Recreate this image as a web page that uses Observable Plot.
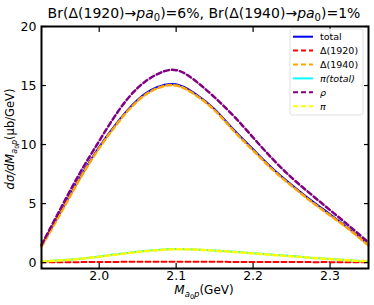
<!DOCTYPE html>
<html><head><meta charset="utf-8">
<script src="https://cdn.jsdelivr.net/npm/d3@7"></script>
<script src="https://cdn.jsdelivr.net/npm/@observablehq/plot@0.6"></script>
<style>body{margin:0;background:#fff;} svg{font-family:"DejaVu Sans",sans-serif;}</style>
</head><body><div id="chart"></div>
<script>
const mass = [1.925,1.95,1.975,2.0,2.025,2.05,2.075,2.1,2.125,2.15,2.175,2.2,2.225,2.25,2.275,2.3,2.325,2.35];
const total = [1.4,4.3,7.2,9.8,12.0,13.8,14.85,15.1,14.3,13.0,11.25,9.6,8.0,6.6,5.3,4.1,2.85,1.5];
const delta1920 = [0.02,0.03,0.04,0.05,0.06,0.07,0.07,0.07,0.07,0.07,0.06,0.06,0.05,0.05,0.04,0.04,0.03,0.03];
const delta1940 = [1.35,4.2,7.1,9.7,11.9,13.7,14.75,15.0,14.2,12.9,11.15,9.5,7.9,6.5,5.2,4.0,2.8,1.45];
const piTotal = [0.1,0.2,0.33,0.52,0.72,0.92,1.07,1.15,1.12,1.03,0.92,0.8,0.67,0.55,0.42,0.31,0.2,0.1];
const rho = [1.5,4.6,7.6,10.3,12.85,14.8,15.95,16.3,15.4,14.0,12.4,10.6,8.8,7.2,5.8,4.45,3.1,1.7];
const piOnly = [0.09,0.19,0.32,0.5,0.7,0.9,1.05,1.13,1.1,1.01,0.9,0.78,0.65,0.53,0.41,0.3,0.19,0.09];

const seriesKeys = ["total","d1920","d1940","piTotal","rho","pi"];
const seriesValues = [total, delta1920, delta1940, piTotal, rho, piOnly];
const seriesColors = ["#0000ff","#ff0000","#ffa500","#00ffff","#800080","#ffff00"];
const seriesDash = [null,"5,3","5,3",null,"5,3","5,3"];
const seriesWidth = [2,2,2.5,2,2.5,2.5];
const xTicks = [2.0,2.1,2.2,2.3];
const yTicks = [0,5,10,15,20];

const lineMarks = seriesKeys.map((k,i) => {
  const data = mass.map((m,j) => ({m, v: seriesValues[i][j]}));
  return Plot.line(data, {x:"m", y:"v", stroke: seriesColors[i], strokeWidth: seriesWidth[i],
    strokeDasharray: seriesDash[i], curve: "natural"});
});

const chart = Plot.plot({
  width: 374, height: 305,
  marginLeft: 41, marginRight: 6, marginTop: 26, marginBottom: 37,
  style: {fontFamily: "DejaVu Sans", fontSize: "12px", background: "#fff"},
  x: {domain: [1.925, 2.35]},
  y: {domain: [-0.5, 20]},
  marks: [
    ...lineMarks,
    Plot.axisX(xTicks, {anchor:"bottom", tickSize:-5, fill:"none", label:null, strokeWidth:1.2}),
    Plot.axisX(xTicks, {anchor:"top", tickSize:-5, fill:"none", label:null, strokeWidth:1.2}),
    Plot.axisY(yTicks, {anchor:"left", tickSize:-5, fill:"none", label:null, strokeWidth:1.2}),
    Plot.axisY(yTicks, {anchor:"right", tickSize:-5, fill:"none", label:null, strokeWidth:1.2}),
    Plot.axisX(xTicks, {anchor:"bottom", tickSize:0, tickPadding:3, tickFormat: d3.format(".1f"), label:null, fontSize:12.5, fill:"#000"}),
    Plot.axisY(yTicks, {anchor:"left", tickSize:0, tickPadding:5, label:null, fontSize:12.5, fill:"#000"}),
    Plot.frame({stroke:"#000", strokeWidth:2})
  ]
});
document.getElementById("chart").appendChild(chart);

const svg = d3.select(chart);
// title
const title = svg.append("text").attr("x", 204).attr("y", 18).attr("text-anchor","middle")
  .attr("font-size", 14).attr("fill","#000");
function addPa(t){
  t.append("tspan").attr("font-style","italic").text("pa");
  t.append("tspan").attr("font-size",10).attr("dy",3).text("0");
  return t.append("tspan").attr("dy",-3);
}
title.append("tspan").text("Br(Δ(1920)→");
addPa(title).text(")=6%, Br(Δ(1940)→");
addPa(title).text(")=1%");

// y label
const yl = svg.append("text").attr("transform","translate(14,139) rotate(-90)")
  .attr("text-anchor","middle").attr("font-size",11.5).attr("fill","#000");
yl.append("tspan").attr("font-style","italic").text("dσ/dM");
yl.append("tspan").attr("font-style","italic").attr("font-size",8).attr("dy",3).text("a");
yl.append("tspan").attr("font-size",6).attr("dy",1.5).text("0");
yl.append("tspan").attr("font-style","italic").attr("font-size",8).attr("dy",-1.5).text("p");
yl.append("tspan").attr("dy",-3).text("(μb/GeV)");

// x label
const xl = svg.append("text").attr("x",204).attr("y",294).attr("text-anchor","middle")
  .attr("font-size",12).attr("fill","#000");
xl.append("tspan").attr("font-style","italic").text("M");
xl.append("tspan").attr("font-style","italic").attr("font-size",8.5).attr("dy",3).text("a");
xl.append("tspan").attr("font-size",6.5).attr("dy",1.5).text("0");
xl.append("tspan").attr("font-style","italic").attr("font-size",8.5).attr("dy",-1.5).text("p");
xl.append("tspan").attr("dy",-3).text("(GeV)");

// legend
const legendLabels = [
  [{t:"total"}],
  [{t:"Δ(1920)"}],
  [{t:"Δ(1940)"}],
  [{t:"π(total)", i:true}],
  [{t:"ρ", i:true}],
  [{t:"π", i:true}]
];
const lg = svg.append("g");
lg.append("rect").attr("x",290).attr("y",29).attr("width",73).attr("height",86).attr("rx",2)
  .attr("fill","#fff").attr("fill-opacity",0.85).attr("stroke","#d9d9d9").attr("stroke-width",0.8);
seriesKeys.forEach((k,i) => {
  const y = 36.7 + i*13.9;
  lg.append("line").attr("x1",293).attr("x2",313).attr("y1",y).attr("y2",y)
    .attr("stroke",seriesColors[i]).attr("stroke-width",2)
    .attr("stroke-dasharray", seriesDash[i] ? "5,3" : null);
  const t = lg.append("text").attr("x",320).attr("y",y).attr("dy","0.35em")
    .attr("text-anchor","start").attr("font-size",9.5).attr("fill","#000");
  legendLabels[i].forEach(p => t.append("tspan").attr("font-style", p.i ? "italic" : null).text(p.t));
});
</script>
</body></html>
